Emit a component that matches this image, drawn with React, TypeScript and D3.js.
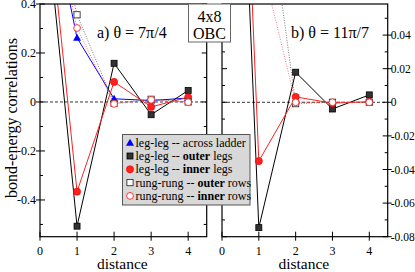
import * as d3 from 'd3';
import React from 'react';

// distances along the ladder
const distances = [0, 1, 2, 3, 4];

// panel a) theta = 7pi/4
const legAcrossA = [1.0, 0.262, 0.013, 0.006, 0.016];
const legOuterA = [1.0, -0.507, 0.158, -0.052, 0.047];
const legInnerA = [1.1, -0.366, 0.082, -0.02, 0.019];
const rungOuterA = [1.0, 0.356, -0.006, 0.011, 0.0];
const rungInnerA = [1.0, 0.302, -0.008, 0.009, -0.001];

// panel b) theta = 11pi/7
const legOuterB = [0.45, -0.0746, 0.0179, -0.004, 0.0044];
const legInnerB = [0.49, -0.035, 0.0032, -0.0005, 0.0003];
const rungOuterB = [1.0, 0.16, -0.0008, 0.0, 0.0];
const rungInnerB = [1.0, 0.09, 0.0, 0.0, 0.0];

const xTicks = [0, 1, 2, 3, 4];
const yTicksA = [-0.4, -0.2, 0, 0.2, 0.4];
const yTickLabelsA = ['-0.4', '-0.2', '0', '0.2', '0.4'];
const yMinorA = [-0.5, -0.3, -0.1, 0.1, 0.3];
const yTicksB = [-0.08, -0.06, -0.04, -0.02, 0, 0.02, 0.04];
const yTickLabelsB = ['-0.08', '-0.06', '-0.04', '-0.02', '0', '0.02', '0.04'];
const yMinorB = [-0.07, -0.05, -0.03, -0.01, 0.01, 0.03, 0.05];

const legendRows = [
  { kind: 'tri', pre: 'leg-leg -- ', bold: '', post: 'across ladder' },
  { kind: 'sq', pre: 'leg-leg -- ', bold: 'outer', post: ' legs' },
  { kind: 'circ', pre: 'leg-leg -- ', bold: 'inner', post: ' legs' },
  { kind: 'osq', pre: 'rung-rung -- ', bold: 'outer', post: ' rows' },
  { kind: 'ocirc', pre: 'rung-rung -- ', bold: 'inner', post: ' rows' },
];

const FONT = '"Liberation Serif", "DejaVu Serif", serif';
const RED = '#ff2020';
const top = 4, bottom = 236.7;

function Marker({ kind, x, y }) {
  if (kind == 'tri') return <path d={`M${x},${y - 4}L${x + 4},${y + 3}L${x - 4},${y + 3}Z`} fill="#0000ff" />;
  if (kind == 'sq') return <rect x={x - 3} y={y - 3} width={6} height={6} fill="#333" stroke="#000" strokeWidth={0.8} />;
  if (kind == 'circ') return <circle cx={x} cy={y} r={3.6} fill={RED} stroke="#e00" strokeWidth={0.6} />;
  if (kind == 'osq') return <rect x={x - 3.1} y={y - 3.1} width={6.2} height={6.2} fill="#fff" stroke="#333" strokeWidth={0.9} />;
  return <circle cx={x} cy={y} r={3.4} fill="#fff" stroke={RED} strokeWidth={0.9} />;
}

function Panel({ id, left, right, domain, series, ticks, tickLabels, minor, labelSide, title, titleX }) {
  const x = d3.scaleLinear().domain([0, 4.5]).range([left, right]);
  const y = d3.scaleLinear().domain(domain).range([bottom, top]);
  const line = d3.line().x((d, i) => x(distances[i])).y(d => y(d));

  return (
    <g>
      <defs>
        <clipPath id={id}>
          <rect x={left} y={top} width={right - left} height={bottom - top} />
        </clipPath>
      </defs>
      <rect x={left} y={top} width={right - left} height={bottom - top} fill="#fff" />
      <line x1={left} x2={right} y1={y(0)} y2={y(0)} stroke="#000" strokeWidth={0.8} strokeDasharray="3,2" />
      <g clipPath={`url(#${id})`}>
        {series.map((s, k) => (
          <path key={'l' + k} d={line(s.values)} fill="none" stroke={s.color}
            strokeWidth={s.dotted ? 0.8 : 1} strokeDasharray={s.dotted ? '1,1.5' : null} />
        ))}
        {series.map((s, k) => s.values.map((v, i) => i > 0 ? (
          <Marker key={'m' + k + '_' + i} kind={s.kind} x={x(distances[i])} y={y(v)} />
        ) : null))}
      </g>
      <rect x={left} y={top} width={right - left} height={bottom - top} fill="none" stroke="#000" strokeWidth={1.2} />
      {/* y ticks on both sides */}
      {ticks.map(t => (
        <g key={'yt' + t}>
          <line x1={left - (labelSide == 'left' ? 4 : 0)} x2={left + 5} y1={y(t)} y2={y(t)} stroke="#000" />
          <line x1={right - 5} x2={right + (labelSide == 'right' ? 4 : 0)} y1={y(t)} y2={y(t)} stroke="#000" />
        </g>
      ))}
      {minor.map(t => (
        <g key={'ym' + t}>
          <line x1={left} x2={left + 3} y1={y(t)} y2={y(t)} stroke="#000" />
          <line x1={right - 3} x2={right} y1={y(t)} y2={y(t)} stroke="#000" />
        </g>
      ))}
      {ticks.map((t, i) => labelSide == 'left' ? (
        <text key={'yl' + t} x={left - 4} y={y(t)} dy="0.35em" textAnchor="end" fontSize={12} fontFamily={FONT}>{tickLabels[i]}</text>
      ) : (
        <text key={'yl' + t} x={right + 3} y={y(t)} dy="0.35em" textAnchor="start" fontSize={11.5} fontFamily={FONT}>{tickLabels[i]}</text>
      ))}
      {xTicks.map(t => (
        <g key={'xt' + t}>
          <line x1={x(t)} x2={x(t)} y1={bottom - 5} y2={bottom + 4} stroke="#000" />
          <text x={x(t)} y={254.5} textAnchor="middle" fontSize={12} fontFamily={FONT}>{t}</text>
        </g>
      ))}
      <text x={(left + right) / 2 - 1} y={268.7} textAnchor="middle" fontSize={15.5} fontFamily={FONT}>distance</text>
      <text x={titleX} y={38} fontSize={16} fontFamily={FONT}>{title}</text>
    </g>
  );
}

export default function App() {
  const seriesA = [
    { values: legAcrossA, color: '#0000ff', kind: 'tri' },
    { values: legOuterA, color: '#000', kind: 'sq' },
    { values: legInnerA, color: RED, kind: 'circ' },
    { values: rungOuterA, color: '#555', kind: 'osq', dotted: true },
    { values: rungInnerA, color: '#ff5050', kind: 'ocirc', dotted: true },
  ];
  const seriesB = [
    { values: legOuterB, color: '#000', kind: 'sq' },
    { values: legInnerB, color: RED, kind: 'circ' },
    { values: rungOuterB, color: '#555', kind: 'osq', dotted: true },
    { values: rungInnerB, color: '#ff5050', kind: 'ocirc', dotted: true },
  ];

  return (
    <svg width={415} height={272} style={{ position: 'absolute', left: 0, top: 0 }}>
      <rect width={415} height={272} fill="#fff" />
      <Panel id="clipA" left={40} right={206.7} domain={[-0.55, 0.4]} series={seriesA}
        ticks={yTicksA} tickLabels={yTickLabelsA} minor={yMinorA} labelSide="left"
        title={'a)  \u03b8 = 7\u03c0/4'} titleX={97} />
      <Panel id="clipB" left={222} right={387.7} domain={[-0.08, 0.0585]} series={seriesB}
        ticks={yTicksB} tickLabels={yTickLabelsB} minor={yMinorB} labelSide="right"
        title={'b)  \u03b8 = 11\u03c0/7'} titleX={291} />

      <text transform="translate(17,118) rotate(-90)" textAnchor="middle" fontSize={16} fontFamily={FONT}>bond-energy correlations</text>

      {/* system label */}
      <rect x={188.5} y={4} width={42} height={38} fill="#fff" stroke="#666" strokeWidth={1} />
      <text x={209.5} y={22} textAnchor="middle" fontSize={16} fontFamily={FONT}>4x8</text>
      <text x={209.5} y={39} textAnchor="middle" fontSize={16} fontFamily={FONT}>OBC</text>

      {/* legend */}
      <rect x={122.5} y={134.5} width={127.5} height={70.5} fill="#d8d8d8" stroke="#555" strokeWidth={1} />
      {legendRows.map((r, i) => {
        const cy = 142.7 + i * 13.3;
        return (
          <g key={'lg' + i}>
            <Marker kind={r.kind} x={130} y={cy} />
            <text x={135.5} y={cy + 4} fontSize={12} fontFamily={FONT}>
              {r.pre}<tspan fontWeight="bold">{r.bold}</tspan>{r.post}
            </text>
          </g>
        );
      })}
    </svg>
  );
}
